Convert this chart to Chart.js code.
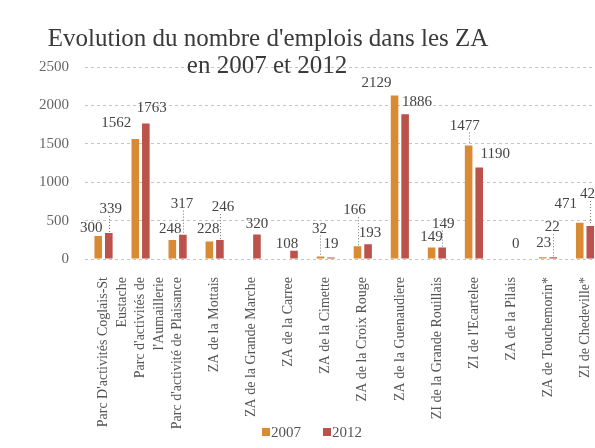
<!DOCTYPE html>
<html>
<head>
<meta charset="utf-8">
<script src="https://cdn.jsdelivr.net/npm/chart.js@4.4.0/dist/chart.umd.min.js"></script>
<style>
  html, body { margin: 0; padding: 0; background: #fff; overflow: hidden; }
  #wrap { position: relative; width: 614px; height: 448px; }
</style>
</head>
<body>
<div id="wrap"><canvas id="chart"></canvas></div>
<script>
// data
const zones = [
  ["Parc D'activités Coglais-St", "Eustache"],
  ["Parc d'activités de", "l'Aumaillerie"],
  "Parc d'activité de Plaisance",
  "ZA de la Mottais",
  "ZA de la Grande Marche",
  "ZA de la Carree",
  "ZA de la Cimette",
  "ZA de la Croix Rouge",
  "ZA de la Guenaudiere",
  "ZI de la Grande Rouillais",
  "ZI de l'Ecartelee",
  "ZA de la Pilais",
  "ZA de Touchemorin*",
  "ZI de Chedeville*"
];
const emplois2007 = [300, 1562, 248, 228, null, null, 32, 166, 2129, 149, 1477, 0, 23, 471];
const emplois2012 = [339, 1763, 317, 246, 320, 108, 19, 193, 1886, 149, 1190, null, 22, 429];
const yTicks = [0, 500, 1000, 1500, 2000, 2500];
const titleLines = ["Evolution du nombre d'emplois dans les ZA", "en 2007 et 2012"];

const serif = "'Liberation Serif', 'DejaVu Serif', serif";

// label nudges (dx, dy) so the value labels sit where the original put them
const nudges = [
  [[-7,0],[-19,-8],[-2,-3],[-1,-4],null,null,[-1,-20],[-3,-28],[-18,-4],[0,-3],[-4,-12],[10,-7],[1,-6],[-14,-11]],
  [[2,-16],[6,-8],[-1,-23],[3,-25],[0,-2],[-7,1],[0,-6],[2,-3],[12,-4],[1,-16],[16,-6],null,[-1,-22],[1,-24]]
];

const valueLabels = {
  id: 'valueLabels',
  afterDatasetsDraw(chart) {
    const ctx = chart.ctx;
    ctx.save();
    ctx.font = '15px ' + serif;
    ctx.fillStyle = '#444';
    ctx.textAlign = 'center';
    ctx.textBaseline = 'alphabetic';
    chart.data.datasets.forEach((ds, d) => {
      const meta = chart.getDatasetMeta(d);
      meta.data.forEach((bar, i) => {
        const v = ds.data[i];
        if (v === null || v === undefined) return;
        const n = nudges[d][i] || [0, 0];
        const x = bar.x + n[0];
        const y = bar.y - 4 + n[1];
        ctx.fillText(String(v), x, y);
        if (n[1] <= -12) {
          // dotted leader line down to the bar
          ctx.save();
          ctx.strokeStyle = '#777';
          ctx.lineWidth = 1;
          ctx.setLineDash([1, 2]);
          ctx.beginPath();
          ctx.moveTo(Math.round(bar.x) + 0.5, y + 3);
          ctx.lineTo(Math.round(bar.x) + 0.5, bar.y - 1);
          ctx.stroke();
          ctx.restore();
        }
      });
    });
    ctx.restore();
  }
};

const titleAndLegend = {
  id: 'titleAndLegend',
  afterDraw(chart) {
    const ctx = chart.ctx;
    ctx.save();
    ctx.font = '25px ' + serif;
    ctx.fillStyle = '#3a3a3a';
    ctx.textAlign = 'center';
    ctx.fillText(titleLines[0], 268, 46);
    ctx.fillText(titleLines[1], 267, 73);

    // legend under the axis labels
    ctx.font = '15px ' + serif;
    ctx.textAlign = 'left';
    ctx.textBaseline = 'middle';
    let x = 262;
    chart.data.datasets.forEach(ds => {
      ctx.fillStyle = ds.backgroundColor;
      ctx.fillRect(x, 428, 8, 8);
      ctx.fillStyle = '#555';
      ctx.fillText(ds.label, x + 9, 433);
      x += 9 + ctx.measureText(ds.label).width + 22;
    });
    ctx.restore();
  }
};

new Chart(document.getElementById('chart'), {
  type: 'bar',
  data: {
    labels: zones,
    datasets: [
      { label: '2007', data: emplois2007, backgroundColor: '#d98a35' },
      { label: '2012', data: emplois2012, backgroundColor: '#bb524b' }
    ]
  },
  options: {
    responsive: true,
    maintainAspectRatio: false,
    animation: false,
    categoryPercentage: 0.57,
    barPercentage: 0.72,
    layout: { padding: { top: 67, left: 0, right: 2, bottom: 0 } },
    plugins: {
      title: { display: false },
      tooltip: { enabled: false },
      legend: { display: false }
    },
    scales: {
      x: {
        grid: { display: false },
        border: { display: false },
        afterFit(scale) { scale.height = 189; },
        ticks: {
          autoSkip: false,
          minRotation: 90,
          maxRotation: 90,
          padding: 10,
          color: '#555',
          font: { family: serif, size: 14, lineHeight: 1.35 }
        }
      },
      y: {
        min: 0,
        max: 2500,
        afterFit(scale) { scale.width = 85; },
        afterBuildTicks(scale) { scale.ticks = yTicks.map(v => ({ value: v })); },
        grid: { color: '#c4c4c4', drawTicks: false },
        border: { display: false, dash: [3, 3] },
        ticks: {
          padding: 16,
          color: '#666',
          font: { family: serif, size: 15 },
          callback: v => String(v)
        }
      }
    }
  },
  plugins: [valueLabels, titleAndLegend]
});
</script>
</body>
</html>
